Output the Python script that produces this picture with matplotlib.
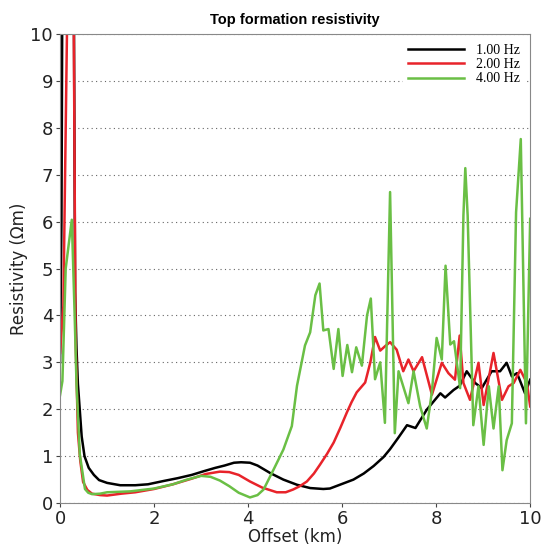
import matplotlib
matplotlib.use("Agg")
import matplotlib.pyplot as plt

# ---- data ----
x_1hz = [0, 0.03, 0.06, 0.28, 0.32, 0.35, 0.38, 0.46, 0.52, 0.61, 0.72, 0.83, 1.0, 1.28, 1.6, 1.87,
         2.2, 2.5, 2.8, 3.06, 3.3, 3.5, 3.7, 3.85, 4.04, 4.2, 4.47, 4.75, 5.04, 5.32, 5.6, 5.74,
         6.03, 6.24, 6.46, 6.67, 6.88, 7.02, 7.2, 7.38, 7.56, 7.8, 8.09, 8.19, 8.37, 8.5, 8.65,
         8.83, 8.97, 9.18, 9.36, 9.5, 9.61, 9.72, 9.89, 10.0]
r_1hz = [3.0, 6.0, 14, 14, 4.5, 3.3, 2.54, 1.42, 1.0, 0.75, 0.6, 0.49, 0.43, 0.38, 0.38, 0.4,
         0.47, 0.53, 0.6, 0.68, 0.75, 0.8, 0.86, 0.87, 0.86, 0.8, 0.64, 0.5, 0.39, 0.32, 0.3, 0.31,
         0.42, 0.5, 0.63, 0.79, 0.98, 1.15, 1.4, 1.66, 1.6, 1.99, 2.34, 2.25, 2.41, 2.5, 2.81,
         2.56, 2.45, 2.81, 2.81, 2.99, 2.7, 2.77, 2.34, 2.63]

x_2hz = [0, 0.07, 0.2, 0.27, 0.33, 0.38, 0.43, 0.49, 0.58, 0.68, 0.85, 1.0, 1.3, 1.6, 2.0, 2.4,
         2.8, 3.1, 3.4, 3.6, 3.8, 4.04, 4.3, 4.61, 4.8, 4.96, 5.1, 5.25, 5.4, 5.53, 5.68, 5.82,
         5.96, 6.1, 6.2, 6.31, 6.49, 6.6, 6.7, 6.81, 6.92, 7.02, 7.16, 7.3, 7.41, 7.52, 7.7,
         7.91, 8.12, 8.26, 8.4, 8.5, 8.58, 8.72, 8.9, 9.01, 9.22, 9.4, 9.54, 9.65, 9.79, 9.93, 10.0]
r_2hz = [3.2, 4.2, 14, 14, 3.5, 1.5, 0.9, 0.45, 0.28, 0.2, 0.17, 0.16, 0.2, 0.23, 0.3, 0.4,
         0.52, 0.62, 0.67, 0.66, 0.6, 0.46, 0.33, 0.23, 0.23, 0.29, 0.36, 0.46, 0.63, 0.82, 1.05, 1.29,
         1.6, 1.93, 2.15, 2.36, 2.57, 3.0, 3.54, 3.25, 3.35, 3.43, 3.27, 2.81, 3.06, 2.81, 3.11,
         2.31, 2.99, 2.77, 2.63, 3.57, 2.56, 2.2, 2.99, 2.09, 3.2, 2.2, 2.49, 2.56, 2.84, 2.56, 2.06]

x_4hz = [0, 0.05, 0.12, 0.25, 0.31, 0.35, 0.42, 0.53, 0.6, 0.68, 0.85, 1.0, 1.5, 2.0, 2.4, 2.7,
         3.0, 3.2, 3.4, 3.6, 3.8, 4.04, 4.2, 4.33, 4.54, 4.75, 4.93, 5.04, 5.21, 5.32, 5.43, 5.52,
         5.6, 5.71, 5.82, 5.92, 6.01, 6.11, 6.21, 6.3, 6.42, 6.53, 6.61, 6.7, 6.81, 6.91, 7.02,
         7.12, 7.2, 7.41, 7.52, 7.66, 7.8, 7.91, 8.01, 8.12, 8.2, 8.3, 8.38, 8.51, 8.58, 8.62,
         8.67, 8.79, 8.9, 9.01, 9.12, 9.22, 9.33, 9.41, 9.5, 9.61, 9.7, 9.8, 9.91, 10.0]
r_4hz = [2.3, 2.6, 5.0, 6.04, 4.03, 2.54, 1.04, 0.3, 0.22, 0.19, 0.2, 0.23, 0.25, 0.31, 0.4, 0.5,
         0.58, 0.56, 0.48, 0.36, 0.22, 0.12, 0.17, 0.29, 0.71, 1.14, 1.64, 2.5, 3.36, 3.64, 4.43, 4.68,
         3.68, 3.71, 2.86, 3.71, 2.71, 3.37, 2.79, 3.32, 2.93, 4.0, 4.36, 2.64, 3.0, 1.71, 6.63,
         1.49, 2.81, 2.13, 2.81, 2.06, 1.59, 2.38, 3.52, 3.06, 5.06, 3.38, 3.45, 2.45, 6.13, 7.14,
         6.13, 1.66, 2.49, 1.24, 2.49, 1.59, 2.49, 0.7, 1.34, 1.7, 6.2, 7.76, 1.7, 6.06]

labels = ["1.00 Hz", "2.00 Hz", "4.00 Hz"]
colors = ["black", "#e8232a", "#6abf45"]
title = "Top formation resistivity"
xlabel = "Offset (km)"
ylabel = "Resistivity (\u03a9m)"

# ---- plot ----
fig = plt.figure(figsize=(5.41, 5.48), dpi=100)
ax = fig.add_axes([0.111, 0.082, 0.869, 0.856])

for xs, ys, lab, c in zip([x_1hz, x_2hz, x_4hz], [r_1hz, r_2hz, r_4hz], labels, colors):
    ax.plot(xs, ys, color=c, lw=1.8, label=lab, clip_on=True)

ax.set_xlim(0, 10)
ax.set_ylim(0, 10)
ax.set_xticks([0, 2, 4, 6, 8, 10])
ax.set_yticks(range(0, 11))
ax.yaxis.grid(True, linestyle=(0, (1, 3)), color="#666666", lw=0.8)
ax.set_axisbelow(True)
for s in ax.spines.values():
    s.set_color("#888888")
ax.tick_params(colors="#444444", labelcolor="#222222", labelsize=13, length=3, pad=2)
ax.set_xlabel(xlabel, fontsize=12, color="#222222", labelpad=0)
ax.set_ylabel(ylabel, fontsize=12, color="#222222", labelpad=2)
ax.set_title(title, fontsize=10.5, fontweight="bold", family="Liberation Sans", pad=7)

leg = ax.legend(loc="upper right", prop={"family": "Liberation Serif", "size": 10},
                handlelength=4.0, handletextpad=0.9, labelspacing=0.1,
                frameon=True, fancybox=False, borderaxespad=0.3)
leg.get_frame().set_edgecolor("none")
leg.get_frame().set_facecolor("white")
leg.get_frame().set_alpha(1)

fig.savefig("out.png", dpi=100)
